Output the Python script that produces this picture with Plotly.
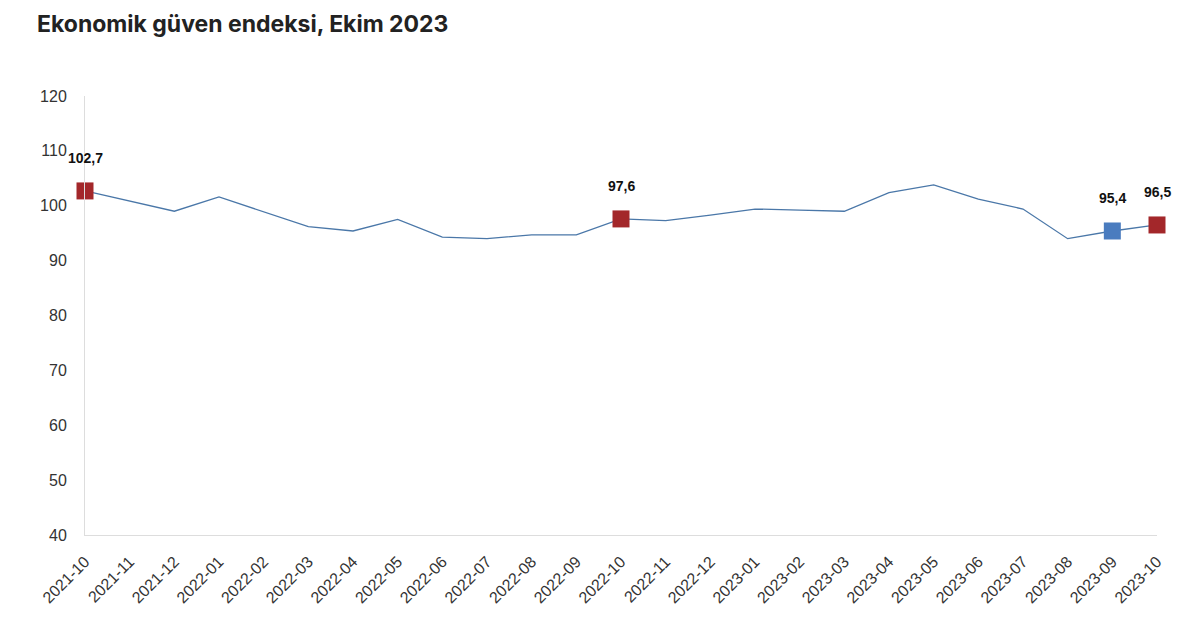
import plotly.graph_objects as go

months = ["2021-10", "2021-11", "2021-12", "2022-01", "2022-02", "2022-03", "2022-04",
          "2022-05", "2022-06", "2022-07", "2022-08", "2022-09", "2022-10", "2022-11",
          "2022-12", "2023-01", "2023-02", "2023-03", "2023-04", "2023-05", "2023-06",
          "2023-07", "2023-08", "2023-09", "2023-10"]
values = [102.7, 100.9, 99.0, 101.6, 98.9, 96.2, 95.4, 97.5, 94.3, 94.0, 94.7, 94.7,
          97.6, 97.3, 98.3, 99.4, 99.2, 99.0, 102.4, 103.8, 101.2, 99.4, 94.0, 95.4, 96.5]

red_months = ["2021-10", "2022-10", "2023-10"]
blue_months = ["2023-09"]
y_ticks = [40, 50, 60, 70, 80, 90, 100, 110, 120]

title_text = "Ekonomik güven endeksi, Ekim 2023"

val = dict(zip(months, values))

def fmt(v):
    return f"{v:.1f}".replace(".", ",")

fig = go.Figure()
fig.add_trace(go.Scatter(
    x=months, y=values, mode="lines",
    line=dict(color="#4a77a8", width=1.3),
    hoverinfo="skip", cliponaxis=False, showlegend=False,
))
fig.add_trace(go.Scatter(
    x=red_months, y=[val[m] for m in red_months], mode="markers",
    marker=dict(symbol="square", size=17, color="#a3272a"),
    cliponaxis=False, showlegend=False,
))
fig.add_trace(go.Scatter(
    x=blue_months, y=[val[m] for m in blue_months], mode="markers",
    marker=dict(symbol="square", size=17, color="#4a7cbf"),
    cliponaxis=False, showlegend=False,
))

for m in red_months + blue_months:
    fig.add_annotation(
        x=m, y=val[m], text=f"<b>{fmt(val[m])}</b>", showarrow=False,
        yshift=33, xanchor="center", yanchor="middle",
        font=dict(family="Liberation Sans, Arial, sans-serif", size=14, color="#111111"),
    )

fig.update_layout(
    width=1200, height=634,
    margin=dict(l=77, r=51, t=88, b=107, autoexpand=False),
    paper_bgcolor="white", plot_bgcolor="white",
    title=dict(text=f"<b>{title_text}</b>", x=29 / 1200, xanchor="left",
               y=1 - 16 / 634, yanchor="middle",
               font=dict(family="Inter, Roboto, sans-serif", size=23, color="#222222")),
    xaxis=dict(type="category", range=[0, len(months) - 1], tickangle=-45,
               showgrid=False, showline=True, linecolor="#dddddd", linewidth=1,
               ticks="", zeroline=False, automargin=False, ticklabelstandoff=10,
               tickfont=dict(family="Liberation Sans, Arial, sans-serif", size=16, color="#333333")),
    yaxis=dict(range=[40, 120], tickvals=y_ticks, showgrid=False, showline=True,
               linecolor="#dddddd", linewidth=1, ticks="", zeroline=False,
               automargin=False, ticklabelstandoff=14,
               tickfont=dict(family="Liberation Sans, Arial, sans-serif", size=16, color="#333333")),
)

fig.write_html("out.html")
